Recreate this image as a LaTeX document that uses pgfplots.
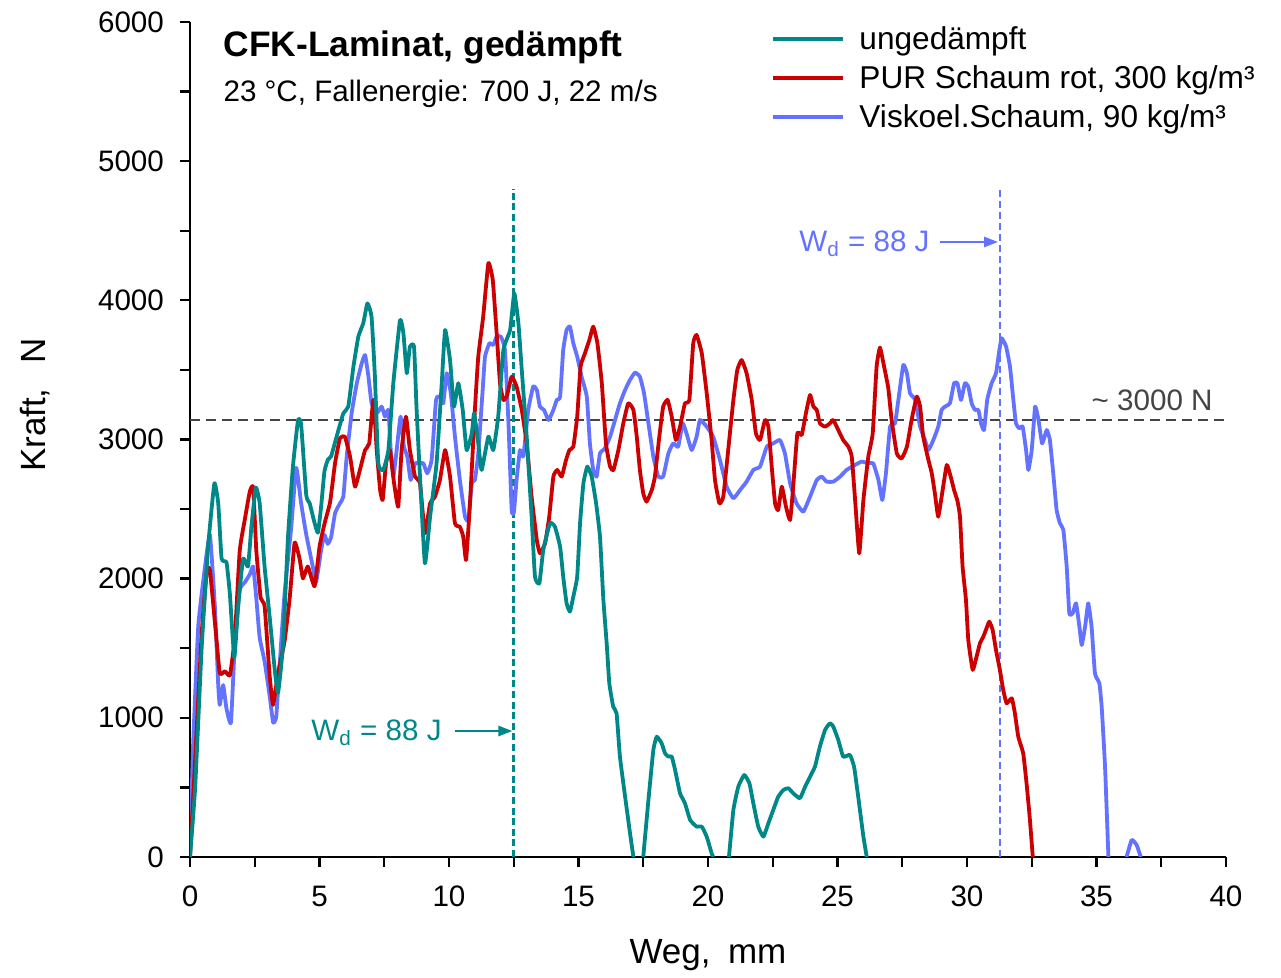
\documentclass[border=0pt]{standalone}
\usepackage{fontspec}
\setmainfont{Liberation Sans}
\usepackage{pgfplots}
\pgfplotsset{compat=1.18}
\usetikzlibrary{arrows.meta}
\definecolor{cteal}{RGB}{0,136,136}
\definecolor{cred}{RGB}{204,0,0}
\definecolor{cblue}{RGB}{100,115,255}
\definecolor{cgray}{RGB}{68,68,68}
\begin{document}
\begin{tikzpicture}
\begin{axis}[
  scale only axis, width=518pt, height=417.5pt,
  xmin=0, xmax=40, ymin=0, ymax=6000,
  axis lines=left, axis line style={line width=1.2pt,-},
  xtick distance=5, ytick distance=1000, minor x tick num=1, minor y tick num=1,
  tick align=outside, major tick length=5pt, minor tick length=5pt,
  every tick/.style={line width=1.2pt,black},
  ticklabel style={font=\fontsize{14.8}{17}\selectfont},
  yticklabel style={xshift=-4.5pt},
  xticklabel style={yshift=-6pt},
  /pgf/number format/assume math mode=true,
  /pgf/number format/1000 sep={},
  xlabel={Weg,\hspace{0.5em}mm}, ylabel={Kraft,\hspace{0.7em}N},
  label style={font=\fontsize{17.5}{20}\selectfont},
  xlabel style={at={(axis description cs:0.5,-0.118)},anchor=center},
  ylabel style={at={(axis description cs:-0.15,0.541)},anchor=center},
  unbounded coords=jump,
  every axis plot/.append style={line join=round},
  legend style={draw=none, fill=none, at={(0.5605,1.0)}, anchor=north west,
    font=\fontsize{15.8}{18}\selectfont, row sep=2.5pt, inner sep=0pt,
    nodes={inner xsep=4.5pt}},
  legend cell align=left,
  legend image code/.code={\draw[#1,line width=2pt] (0pt,0pt) -- (35pt,0pt); \path (38.5pt,0pt);},
]
\addlegendimage{cteal}\addlegendentry{ungedämpft}
\addlegendimage{cred}\addlegendentry{PUR Schaum rot, 300 kg/m³}
\addlegendimage{cblue}\addlegendentry{Viskoel.Schaum, 90 kg/m³}

\addplot[cgray, line width=1.2pt, dash pattern=on 5pt off 3pt, forget plot] coordinates {(0,3140) (40,3140)};
\addplot[cteal, line width=1.3pt, dash pattern=on 3.5pt off 1.8pt, forget plot] coordinates {(12.48,0) (12.48,4800)};
\addplot[cblue, line width=1.3pt, dash pattern=on 3.5pt off 2pt, forget plot] coordinates {(31.27,0) (31.27,4810)};

% Viskoel. Schaum
\addplot[cblue, line width=1.9pt, smooth, tension=0.25, forget plot] coordinates {
(0,0) (0.12,800) (0.32,1661) (0.58,2087) (0.77,2315) (0.96,1803) (1.09,1235) (1.15,1093) (1.28,1235) (1.41,1065) (1.58,966) (1.73,1519) (1.92,1917) (2.12,1974) (2.31,2031) (2.44,2087) (2.56,1860) (2.69,1576) (2.88,1406) (3.08,1150) (3.21,966) (3.33,1008) (3.46,1377) (3.65,1889) (3.91,2371) (4.1,2797) (4.29,2542) (4.49,2315) (4.74,2087) (4.87,1974) (5.06,2201) (5.19,2315) (5.32,2250) (5.45,2300) (5.6,2470) (5.79,2541) (5.92,2589) (6.05,2877) (6.24,3188) (6.44,3404) (6.63,3547) (6.76,3607) (6.89,3451) (7.01,3260) (7.21,3188) (7.4,3236) (7.53,3164) (7.66,3212) (7.75,2924) (7.85,2733) (7.98,2924) (8.13,3164) (8.26,2948) (8.39,2877) (8.52,2709) (8.69,2829) (8.85,2829) (9.01,2829) (9.16,2757) (9.33,2853) (9.5,3284) (9.65,3308) (9.78,3260) (9.91,3476) (10.07,3332) (10.23,3020) (10.42,2709) (10.62,2445) (10.75,2421) (10.88,2685) (11.0,2709) (11.13,2900) (11.3,3356) (11.39,3595) (11.56,3691) (11.71,3679) (11.84,3739) (12.0,3739) (12.16,3643) (12.3,3100) (12.42,2493) (12.51,2480) (12.61,2710) (12.74,2924) (12.87,2877) (13.06,3212) (13.25,3380) (13.39,3356) (13.51,3236) (13.67,3212) (13.84,3140) (14.03,3212) (14.16,3284) (14.29,3308) (14.41,3643) (14.54,3787) (14.67,3811) (14.8,3691) (14.95,3595) (15.12,3451) (15.32,3308) (15.44,2972) (15.57,2781) (15.7,2733) (15.83,2900) (16.02,2936) (16.22,3020) (16.41,3140) (16.6,3260) (16.8,3356) (16.99,3428) (17.18,3480) (17.37,3451) (17.53,3332) (17.7,3116) (17.89,2877) (18.08,2733) (18.27,2733) (18.47,2900) (18.66,2972) (18.85,2948) (19.02,3116) (19.17,3044) (19.37,2924) (19.56,3020) (19.69,3140) (19.95,3092) (20.2,3020) (20.46,2853) (20.72,2661) (20.98,2577) (21.24,2637) (21.49,2697) (21.75,2781) (22.01,2805) (22.27,2948) (22.52,2972) (22.78,2996) (22.97,2900) (23.17,2685) (23.42,2541) (23.68,2481) (23.94,2589) (24.2,2709) (24.39,2733) (24.58,2697) (24.84,2697) (25.1,2733) (25.35,2781) (25.68,2817) (25.93,2841) (26.19,2829) (26.38,2829) (26.58,2709) (26.73,2565) (26.87,2757) (27.03,3092) (27.22,3116) (27.35,3284) (27.54,3535) (27.68,3476) (27.8,3332) (28.0,3284) (28.19,3092) (28.38,2996) (28.51,2924) (28.7,2996) (28.89,3092) (29.02,3212) (29.15,3236) (29.34,3260) (29.5,3404) (29.63,3404) (29.77,3284) (29.92,3404) (30.05,3380) (30.18,3260) (30.31,3212) (30.44,3212) (30.54,3116) (30.66,3068) (30.78,3284) (30.95,3404) (31.12,3476) (31.25,3643) (31.34,3727) (31.51,3667) (31.66,3523) (31.79,3284) (31.89,3116) (32.02,3080) (32.15,3092) (32.28,2924) (32.37,2781) (32.5,2924) (32.63,3236) (32.76,3140) (32.9,2972) (33.08,3068) (33.2,2996) (33.33,2757) (33.46,2493) (33.59,2397) (33.72,2350) (33.85,2086) (33.95,1751) (34.08,1751) (34.21,1823) (34.34,1655) (34.43,1523) (34.56,1655) (34.68,1823) (34.81,1655) (34.94,1320) (35.11,1248) (35.2,1080) (35.33,649) (35.46,0) (35.8,nan) (36.16,0) (36.36,122) (36.55,86) (36.71,0)
};

% PUR Schaum
\addplot[cred, line width=1.9pt, smooth, tension=0.25, forget plot] coordinates {
(0,0) (0.2,700) (0.45,1600) (0.65,2060) (0.77,2059) (0.96,1690) (1.15,1321) (1.35,1335) (1.54,1306) (1.73,1576) (1.92,2201) (2.12,2428) (2.31,2627) (2.44,2655) (2.56,2201) (2.73,1860) (2.88,1803) (3.08,1292) (3.21,1093) (3.4,1321) (3.65,1548) (3.85,1860) (4.04,2258) (4.23,2144) (4.36,2002) (4.55,2087) (4.81,1945) (5.0,2229) (5.2,2400) (5.41,2550) (5.6,2829) (5.79,3009) (5.98,3020) (6.18,2877) (6.37,2661) (6.56,2781) (6.76,2924) (6.92,2972) (7.08,3284) (7.21,2924) (7.34,2637) (7.44,2565) (7.57,2829) (7.72,2924) (7.88,2685) (8.04,2517) (8.17,2924) (8.34,3164) (8.49,2924) (8.69,2733) (8.88,2685) (9.07,2326) (9.27,2541) (9.46,2589) (9.65,2709) (9.85,2924) (10.04,2733) (10.23,2397) (10.42,2373) (10.55,2301) (10.66,2134) (10.81,2541) (11.0,3212) (11.13,3595) (11.32,3882) (11.52,4266) (11.69,4146) (11.84,3763) (11.97,3404) (12.1,3284) (12.23,3308) (12.42,3451) (12.61,3380) (12.81,3212) (13.0,2972) (13.19,2589) (13.39,2278) (13.51,2182) (13.71,2254) (13.87,2445) (14.03,2733) (14.18,2781) (14.35,2733) (14.52,2853) (14.65,2924) (14.8,2948) (14.95,3164) (15.08,3523) (15.25,3619) (15.42,3715) (15.57,3811) (15.73,3691) (15.9,3404) (16.06,2972) (16.22,2805) (16.35,2781) (16.54,2924) (16.73,3116) (16.92,3260) (17.12,3212) (17.25,3020) (17.37,2781) (17.5,2613) (17.63,2553) (17.83,2637) (17.95,2733) (18.12,3020) (18.27,3236) (18.44,3284) (18.6,3164) (18.76,2996) (18.92,3092) (19.11,3260) (19.28,3284) (19.43,3691) (19.56,3751) (19.76,3619) (19.95,3332) (20.14,2996) (20.27,2709) (20.44,2541) (20.59,2589) (20.78,2924) (20.98,3284) (21.13,3499) (21.3,3571) (21.49,3476) (21.69,3284) (21.85,3044) (22.01,2996) (22.2,3140) (22.33,3092) (22.46,2805) (22.59,2541) (22.71,2493) (22.85,2661) (23.01,2517) (23.17,2421) (23.29,2661) (23.45,3044) (23.62,3032) (23.78,3188) (23.94,3320) (24.07,3236) (24.2,3212) (24.32,3116) (24.52,3092) (24.71,3116) (24.84,3140) (25.03,3068) (25.22,2996) (25.42,2948) (25.55,2877) (25.68,2565) (25.84,2182) (26.0,2565) (26.19,2877) (26.36,3044) (26.51,3523) (26.64,3660) (26.8,3523) (26.96,3370) (27.09,3140) (27.29,2900) (27.48,2864) (27.68,2948) (27.86,3140) (28.06,3308) (28.19,3236) (28.31,3020) (28.51,2853) (28.64,2757) (28.76,2613) (28.89,2445) (29.06,2637) (29.22,2817) (29.37,2733) (29.5,2637) (29.63,2560) (29.73,2445) (29.83,2086) (29.96,1847) (30.05,1559) (30.22,1344) (30.37,1439) (30.5,1535) (30.63,1583) (30.73,1631) (30.86,1691) (30.99,1631) (31.12,1487) (31.27,1344) (31.4,1200) (31.53,1104) (31.73,1140) (31.85,1032) (31.98,864) (32.17,745) (32.3,529) (32.43,266) (32.54,0)
};

% ungedaempft
\addplot[cteal, line width=1.9pt, smooth, tension=0.25, forget plot] coordinates {
(0,0) (0.2,500) (0.45,1500) (0.7,2230) (0.94,2684) (1.09,2542) (1.22,2144) (1.41,2116) (1.54,1889) (1.71,1434) (1.86,1803) (2.05,2144) (2.24,2087) (2.37,2371) (2.54,2655) (2.69,2542) (2.88,2087) (3.08,1718) (3.27,1349) (3.4,1179) (3.59,1519) (3.78,2286) (3.97,2797) (4.17,3138) (4.29,3110) (4.49,2599) (4.62,2542) (4.81,2400) (4.94,2330) (5.06,2513) (5.19,2769) (5.32,2854) (5.45,2880) (5.66,3020) (5.92,3188) (6.11,3236) (6.31,3523) (6.5,3739) (6.69,3835) (6.85,3978) (7.01,3882) (7.14,3451) (7.27,2829) (7.46,2781) (7.66,2924) (7.85,3404) (8.11,3859) (8.24,3763) (8.37,3476) (8.49,3667) (8.65,3667) (8.75,3212) (8.88,2733) (9.07,2110) (9.27,2445) (9.52,2829) (9.72,3404) (9.85,3787) (10.04,3571) (10.19,3236) (10.36,3404) (10.53,3212) (10.68,2924) (10.88,3044) (10.97,3188) (11.13,2972) (11.26,2781) (11.52,3020) (11.71,2924) (11.9,3164) (12.1,3643) (12.36,3787) (12.52,4051) (12.68,3835) (12.81,3499) (13.0,3020) (13.19,2445) (13.32,2014) (13.49,1966) (13.64,2206) (13.9,2398) (14.09,2373) (14.29,2229) (14.41,2014) (14.54,1823) (14.67,1763) (14.8,1870) (14.95,2014) (15.06,2398) (15.19,2685) (15.34,2805) (15.51,2733) (15.68,2541) (15.83,2300) (15.96,1850) (16.09,1530) (16.19,1248) (16.34,1080) (16.47,1032) (16.6,721) (16.8,433) (16.99,170) (17.12,0) (17.3,nan) (17.5,0) (17.7,409) (17.89,769) (18.02,864) (18.21,817) (18.34,745) (18.47,721) (18.6,721) (18.73,625) (18.92,458) (19.11,386) (19.31,266) (19.56,218) (19.76,218) (19.95,146) (20.14,27) (20.2,0) (20.5,nan) (20.81,0) (20.98,338) (21.17,505) (21.4,589) (21.6,529) (21.75,386) (21.94,218) (22.14,146) (22.33,242) (22.52,338) (22.71,433) (22.91,481) (23.1,494) (23.29,458) (23.55,422) (23.75,505) (23.94,577) (24.13,649) (24.32,793) (24.52,913) (24.71,961) (24.84,936) (25.03,841) (25.22,721) (25.48,733) (25.64,649) (25.8,433) (26.0,146) (26.13,0)
};

\node[anchor=west, inner sep=0pt, font=\bfseries\fontsize{17.7}{20}\selectfont] at (rel axis cs:0.032,0.969) {CFK-Laminat, gedämpft};
\node[anchor=west, inner sep=0pt, font=\fontsize{14.8}{17}\selectfont] at (rel axis cs:0.032,0.914) {23 °C, Fallenergie: 700 J, 22 m/s};

\node[anchor=east, inner sep=0pt, text=cteal, font=\fontsize{14.8}{17}\selectfont] at (axis cs:9.73,891) {W\textsubscript{d} = 88 J};
\draw[cteal, line width=1.3pt, -{Triangle[length=7pt,width=5pt]}] (axis cs:10.23,905) -- (axis cs:12.45,905);
\node[anchor=east, inner sep=0pt, text=cblue, font=\fontsize{14.8}{17}\selectfont] at (axis cs:28.57,4405) {W\textsubscript{d} = 88 J};
\draw[cblue, line width=1.3pt, -{Triangle[length=7pt,width=5pt]}] (axis cs:28.96,4419) -- (axis cs:31.2,4419);
\node[anchor=east, inner sep=0pt, text=cgray, font=\fontsize{14.8}{17}\selectfont] at (axis cs:39.5,3284) {\textasciitilde\ 3000 N};

\coordinate (BL) at (rel axis cs:-0.1834,-0.1353);
\coordinate (TR) at (rel axis cs:1.0531,1.0263);
\end{axis}
\path (BL) (TR);
\end{tikzpicture}
\end{document}
